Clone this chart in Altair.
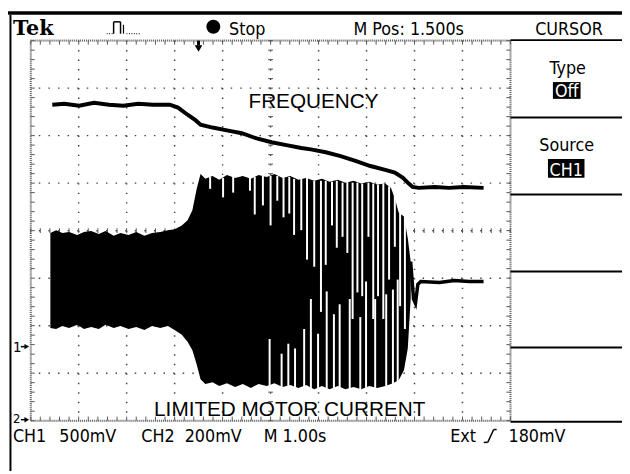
import altair as alt
import numpy as np
import pandas as pd

# ---------------- data (time in s = divisions, level in divisions from graticule bottom)
# CH2: frequency trace
freq_t = [0.45, 0.70, 1.01, 1.32, 1.63, 1.93, 2.24, 2.55, 2.90, 3.07, 3.27, 3.44, 3.54, 3.79, 4.09,
          4.40, 4.71, 5.02, 5.33, 5.64, 5.84, 6.15, 6.46, 6.77, 7.08, 7.39, 7.59, 7.76, 7.88, 7.96,
          8.09, 8.42, 8.72, 9.03, 9.44]
freq_v = [6.65, 6.67, 6.63, 6.69, 6.65, 6.63, 6.67, 6.65, 6.65, 6.59, 6.44, 6.32, 6.23, 6.17, 6.11,
          6.05, 5.94, 5.86, 5.80, 5.74, 5.71, 5.65, 5.57, 5.47, 5.36, 5.28, 5.22, 5.11, 4.99, 4.92,
          4.90, 4.92, 4.90, 4.92, 4.90]

# CH1: motor current envelope
cur_t = [0.41, 0.53, 0.66, 0.80, 0.97, 1.11, 1.26, 1.42, 1.56, 1.73, 1.87, 2.04, 2.20, 2.37, 2.53,
         2.70, 2.86, 3.00, 3.15, 3.27, 3.37, 3.46, 3.54, 3.64, 3.79, 3.93, 4.09, 4.26, 4.42, 4.59,
         4.75, 4.92, 5.08, 5.25, 5.41, 5.58, 5.74, 5.91, 6.07, 6.23, 6.40, 6.56, 6.73, 6.89, 7.06,
         7.22, 7.39, 7.51, 7.59, 7.67, 7.78, 7.86, 7.92]
cur_hi = [3.95, 4.01, 3.95, 3.97, 3.91, 3.97, 3.99, 3.93, 3.99, 3.89, 3.95, 3.91, 3.97, 3.89, 3.95,
          3.97, 4.01, 4.03, 4.11, 4.22, 4.43, 4.88, 5.19, 5.09, 5.15, 5.07, 5.17, 5.11, 5.15, 5.09,
          5.17, 5.13, 5.19, 5.11, 5.15, 5.07, 5.11, 5.05, 5.09, 5.03, 5.07, 5.01, 5.05, 4.99, 5.03,
          4.97, 4.99, 4.90, 4.68, 4.38, 4.30, 3.84, 3.35]
cur_lo = [1.95, 1.93, 1.99, 1.95, 2.02, 1.93, 1.97, 1.93, 2.02, 1.95, 1.99, 1.93, 1.97, 1.91, 1.99,
          1.95, 1.99, 1.91, 1.81, 1.66, 1.48, 1.18, 0.87, 0.77, 0.81, 0.73, 0.79, 0.71, 0.77, 0.69,
          0.77, 0.73, 0.79, 0.71, 0.75, 0.69, 0.75, 0.66, 0.73, 0.66, 0.73, 0.66, 0.71, 0.66, 0.73,
          0.69, 0.73, 0.77, 0.81, 0.85, 1.06, 1.52, 2.56]

# CH1: gaps between the individual current cycles
gap_t = [3.74, 4.01, 4.22, 4.57, 4.67, 4.84, 5.00, 5.14, 5.27, 5.39, 5.49,
         5.64, 5.76, 5.91, 6.05, 6.15, 6.28, 6.38, 6.50, 6.60, 6.71,
         6.81, 6.91, 7.04, 7.14, 7.24, 7.35, 7.47, 7.59, 7.70, 7.80,
         4.98, 5.23, 5.37, 5.51, 5.70, 5.84, 5.99, 6.17, 6.32, 6.44,
         6.65, 6.87, 6.99, 7.18, 7.41, 7.55, 7.65]
gap_top = [5.13, 5.11, 5.13, 5.13, 5.13, 5.15, 5.15, 5.15, 5.13, 5.13, 5.09,
           5.11, 5.11, 5.05, 5.05, 5.05, 5.03, 5.05, 5.01, 5.03, 5.01,
           5.01, 4.99, 5.01, 4.99, 4.97, 4.99, 4.93, 4.86, 4.53, 4.34,
           1.72, 1.41, 1.62, 1.52, 1.93, 2.56, 1.83, 2.72, 2.24, 2.45,
           2.56, 2.18, 2.93, 2.56, 2.66, 2.76, 2.97]
gap_bot = [4.88, 4.70, 4.80, 4.84, 4.34, 4.53, 4.11, 4.63, 4.28, 4.36, 3.91,
           4.01, 3.39, 3.24, 2.29, 3.28, 4.11, 3.64, 3.87, 3.53, 2.14,
           2.70, 2.62, 3.87, 2.14, 2.62, 2.14, 2.97, 3.66, 2.41, 1.93,
           0.64, 0.64, 0.64, 0.64, 0.64, 0.64, 0.64, 0.64, 0.64, 0.64,
           0.64, 0.64, 0.64, 0.64, 0.64, 0.64, 0.64]

# CH1: settled current after the burst
tail_t = [7.92, 7.98, 8.02, 8.07, 8.13, 8.52, 8.83, 9.14, 9.44]
tail_v = [3.35, 2.56, 2.47, 2.87, 2.93, 2.91, 2.95, 2.93, 2.93]

# labels
header_labels = ["Stop", "M Pos: 1.500s", "CURSOR"]
footer_labels = ["CH1", "500mV", "CH2", "200mV", "M 1.00s", "Ext", "180mV"]
menu_labels = ["Type", "Off", "Source", "CH1"]
trace_labels = ["FREQUENCY", "LIMITED MOTOR CURRENT"]

# ---------------- layout
W, H = 486, 385
XS = alt.Scale(domain=[0, 10], nice=False, zero=False)
YS = alt.Scale(domain=[0, 8], nice=False, zero=False)


def X(f):
    return alt.X(f, type="quantitative", scale=XS, axis=None)


def Y(f):
    return alt.Y(f, type="quantitative", scale=YS, axis=None)


one = pd.DataFrame({"k": [0]})
SCOPE = "Liberation Sans Narrow, DejaVu Sans Condensed, Arial Narrow, sans-serif"
SANS = "Liberation Sans, Arial, sans-serif"


def txt(s, x, y, size=18, font=SCOPE, align="left", color="black", weight="normal"):
    return alt.Chart(one).mark_text(
        text=s, font=font, fontSize=size, align=align, baseline="alphabetic",
        color=color, fontWeight=weight
    ).encode(x=alt.value(x), y=alt.value(y))


def seg(x1, y1, x2, y2, w=2, color="black", dash=None):
    kw = dict(color=color, strokeWidth=w)
    if dash:
        kw["strokeDash"] = dash
    return alt.Chart(one).mark_rule(**kw).encode(
        x=alt.value(x1), y=alt.value(y1), x2=alt.value(x2), y2=alt.value(y2))


def box(x1, y1, x2, y2, color="black"):
    return alt.Chart(one).mark_rect(color=color, opacity=1).encode(
        x=alt.value(x1), y=alt.value(y1), x2=alt.value(x2), y2=alt.value(y2))


def sym(shape, x, y, size):
    return alt.Chart(one).mark_point(shape=shape, filled=True, size=size, color="black",
                                     opacity=1).encode(x=alt.value(x), y=alt.value(y))


layers = []

# graticule dotted grid
layers.append(alt.Chart(pd.DataFrame({"x": list(range(1, 10))})).mark_rule(
    color="#444", strokeWidth=1.5, strokeDash=[1.5, 8.125]).encode(x=X("x")))
layers.append(alt.Chart(pd.DataFrame({"y": list(range(1, 8))})).mark_rule(
    color="#444", strokeWidth=1.5, strokeDash=[1.5, 8.22]).encode(y=Y("y")))

# ruler ticks on edges and centre lines
mx = np.round(np.arange(0, 10.001, 0.2), 3)
my = np.round(np.arange(0, 8.001, 0.2), 3)
tl = 0.085
rows = []
for v in mx:
    rows += [(v, v, 0, tl), (v, v, 8 - tl, 8), (v, v, 4 - 0.05, 4 + 0.05)]
for v in my:
    rows += [(0, tl, v, v), (10 - tl, 10, v, v), (5 - 0.05, 5 + 0.05, v, v)]
ticks = pd.DataFrame(rows, columns=["x", "x2", "y", "y2"])
layers.append(alt.Chart(ticks).mark_rule(color="#555", strokeWidth=1).encode(
    x=X("x"), x2="x2", y=Y("y"), y2="y2"))

# graticule border
layers.append(alt.Chart(pd.DataFrame({"x": [0], "x2": [10], "y": [0], "y2": [8]})).mark_rect(
    fillOpacity=0, stroke="#666", strokeWidth=2, strokeDash=[1, 1]).encode(
    x=X("x"), x2="x2", y=Y("y"), y2="y2"))

# CH1 current burst
cur = pd.DataFrame({"t": cur_t, "hi": cur_hi, "lo": cur_lo})
layers.append(alt.Chart(cur).mark_area(color="black", opacity=1).encode(
    x=X("t"), y=Y("hi"), y2="lo"))
gaps = pd.DataFrame({"t": gap_t, "top": gap_top, "bot": gap_bot})
layers.append(alt.Chart(gaps).mark_rule(color="white", strokeWidth=2).encode(
    x=X("t"), y=Y("top"), y2="bot"))
tail = pd.DataFrame({"t": tail_t, "v": tail_v})
layers.append(alt.Chart(tail).mark_line(color="black", strokeWidth=3.5).encode(
    x=X("t"), y=Y("v")))

# CH2 frequency
freq = pd.DataFrame({"t": freq_t, "v": freq_v})
layers.append(alt.Chart(freq).mark_line(color="black", strokeWidth=4).encode(
    x=X("t"), y=Y("v")))

# trace annotations
layers.append(txt(trace_labels[0], 286.5, 68, size=21, font=SANS, align="center"))
layers.append(txt(trace_labels[1], 125, 380, size=21, font=SANS))

# outer frame
layers.append(seg(-23, -28, 599, -28, w=3.5))
layers.append(seg(-20.5, -26, -20.5, 436, w=2))
for yy in [-0.5, 78, 156, 234, 311, 386]:
    layers.append(seg(486, yy, 599, yy, w=2))

# header
layers.append(txt("Tek", -18, -6, size=21, font="DejaVu Serif", weight="bold"))
layers.append(seg(77, -7, 84, -7, w=1, dash=[1, 1.5]))
layers.append(seg(84, -7, 84, -19, w=1.5))
layers.append(seg(84, -19, 91, -19, w=1.5))
layers.append(seg(91, -19, 91, -7, w=1.5))
layers.append(seg(94, -16, 94, -7, w=1.2))
layers.append(seg(97, -7, 112, -7, w=1, dash=[1, 1.5]))
layers.append(sym("circle", 185, -14, 200))
layers.append(txt(header_labels[0], 201, -6))
layers.append(txt(header_labels[1], 327, -6))
layers.append(txt(header_labels[2], 511, -6))

# trigger position marker
layers.append(seg(170, 0, 170, 5, w=3))
layers.append(sym("triangle-down", 170, 8, 60))

# side menu
layers.append(txt(menu_labels[0], 544, 34, align="center"))
layers.append(box(529, 42, 557, 59))
layers.append(txt(menu_labels[1], 543, 57, align="center", color="white"))
layers.append(txt(menu_labels[2], 543, 112, align="center"))
layers.append(box(524, 120, 561, 139))
layers.append(txt(menu_labels[3], 542.5, 137, align="center", color="white"))

# ground markers
layers.append(txt("1", -18, 315, size=15))
layers.append(seg(-10, 310, -5, 310, w=1.5))
layers.append(sym("triangle-right", -4, 310, 30))
layers.append(txt("2", -18, 387, size=13))
layers.append(seg(-10, 384, -5, 384, w=1.5))
layers.append(sym("triangle-right", -4, 384, 30))

# footer
for s, xx in zip(footer_labels, [-18, 29, 112, 156, 236, 425, 484]):
    layers.append(txt(s, xx, 407))
layers.append(seg(459, 407, 463, 407, w=1.5))
layers.append(seg(463, 407, 469, 394, w=1.5))
layers.append(seg(469, 394, 472, 394, w=1.5))

chart = alt.layer(*layers).properties(
    width=W, height=H,
    padding={"left": 23, "top": 30, "right": 113, "bottom": 51},
    autosize="none",
).configure_view(strokeWidth=0).configure(background="white")

chart.save("out.html", embed_options={"renderer": "svg", "actions": False})
